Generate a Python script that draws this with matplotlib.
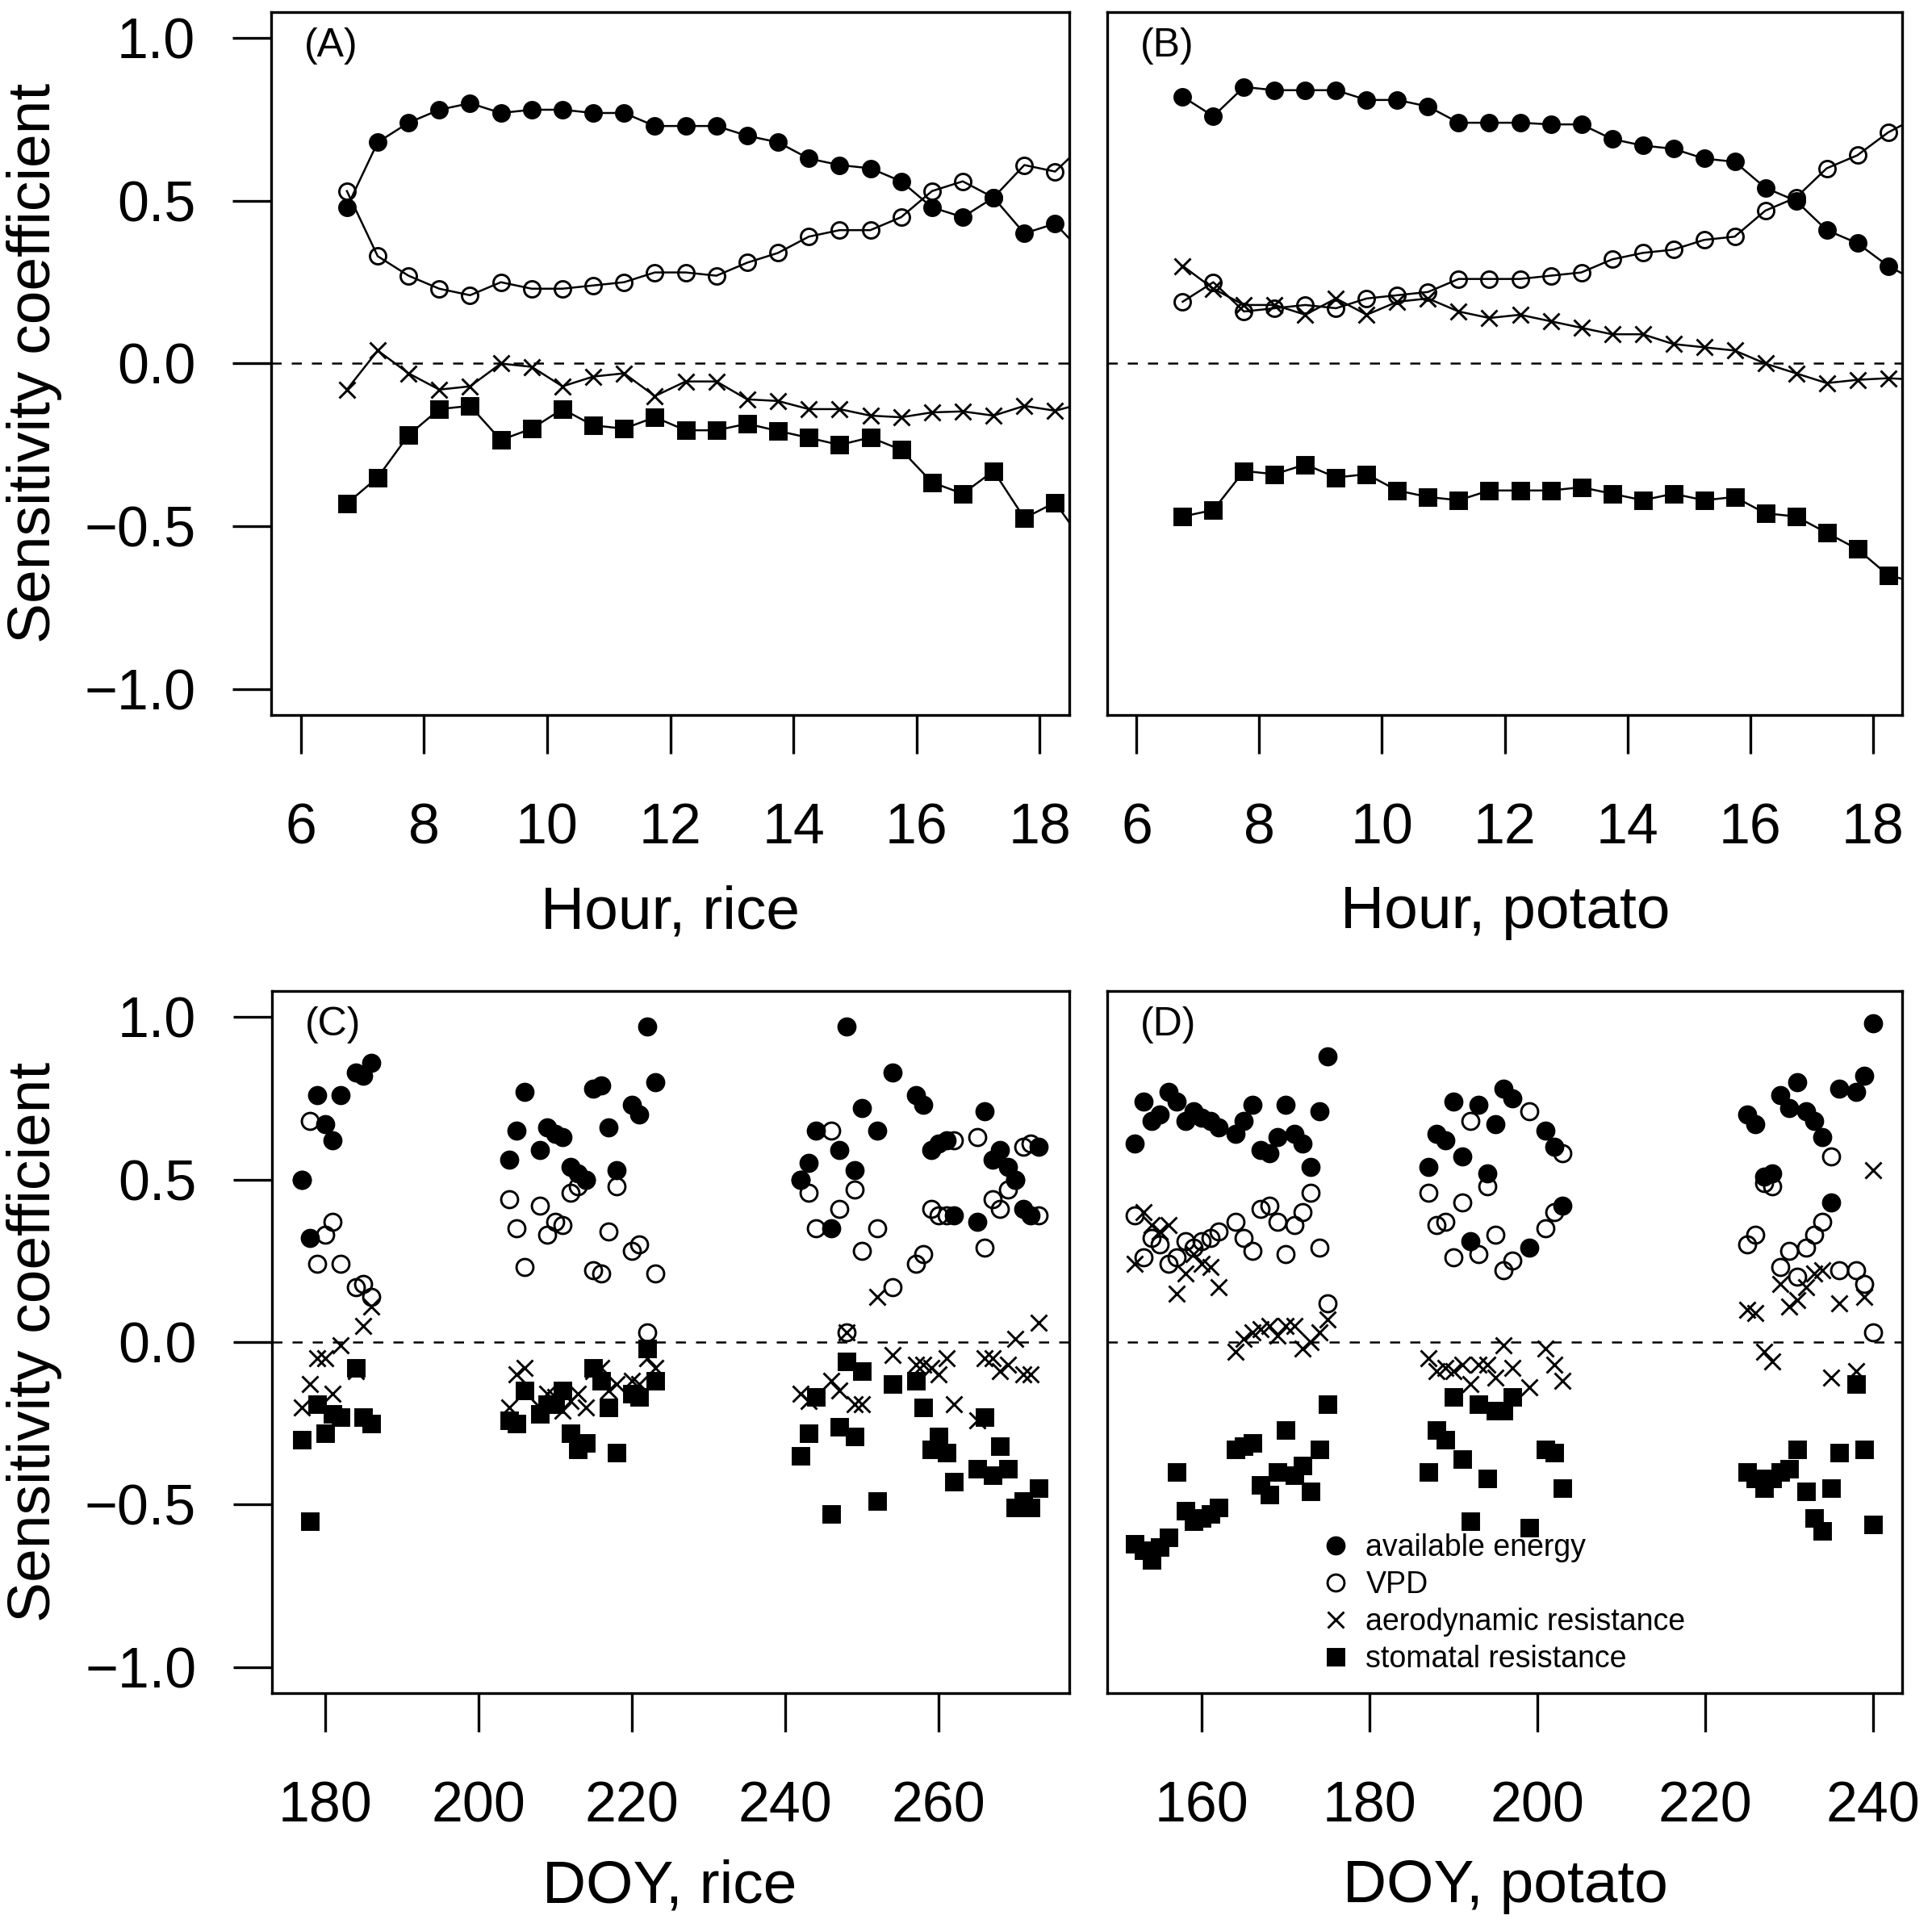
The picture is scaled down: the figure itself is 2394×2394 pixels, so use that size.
import matplotlib
matplotlib.use("Agg")
import matplotlib.pyplot as plt
import numpy as np

plt.rcParams['font.family'] = ['Liberation Sans', 'DejaVu Sans']

# ---- hourly means (panels A, B) ----
hours = [6.75, 7.25, 7.75, 8.25, 8.75, 9.25, 9.75, 10.25, 10.75, 11.25, 11.75, 12.25,
         12.75, 13.25, 13.75, 14.25, 14.75, 15.25, 15.75, 16.25, 16.75, 17.25, 17.75, 18.25, 18.75]

rice_energy = [0.48, 0.68, 0.74, 0.78, 0.80, 0.77, 0.78, 0.78, 0.77, 0.77, 0.73, 0.73,
               0.73, 0.70, 0.68, 0.63, 0.61, 0.60, 0.56, 0.48, 0.45, 0.51, 0.40, 0.43, 0.33]
rice_vpd = [0.53, 0.33, 0.27, 0.23, 0.21, 0.25, 0.23, 0.23, 0.24, 0.25, 0.28, 0.28,
            0.27, 0.31, 0.34, 0.39, 0.41, 0.41, 0.45, 0.53, 0.56, 0.51, 0.61, 0.59, 0.68]
rice_ra = [-0.08, 0.04, -0.03, -0.08, -0.07, 0.00, -0.01, -0.07, -0.04, -0.03, -0.10, -0.055,
           -0.055, -0.11, -0.115, -0.14, -0.14, -0.16, -0.165, -0.15, -0.147, -0.16, -0.13, -0.145, -0.12]
rice_rs = [-0.43, -0.35, -0.22, -0.14, -0.13, -0.235, -0.20, -0.14, -0.19, -0.20, -0.165, -0.205,
           -0.205, -0.185, -0.207, -0.228, -0.25, -0.227, -0.265, -0.365, -0.40, -0.33, -0.475, -0.427, -0.56]

potato_energy = [0.82, 0.76, 0.85, 0.84, 0.84, 0.84, 0.81, 0.81, 0.79, 0.74, 0.74, 0.74,
                 0.735, 0.735, 0.69, 0.67, 0.66, 0.63, 0.62, 0.54, 0.50, 0.41, 0.37, 0.30, 0.25]
potato_vpd = [0.19, 0.25, 0.16, 0.17, 0.18, 0.17, 0.20, 0.21, 0.22, 0.26, 0.26, 0.26,
              0.27, 0.28, 0.32, 0.34, 0.35, 0.38, 0.39, 0.47, 0.51, 0.60, 0.64, 0.71, 0.76]
potato_ra = [0.30, 0.23, 0.18, 0.18, 0.15, 0.20, 0.15, 0.19, 0.20, 0.16, 0.14, 0.15,
             0.13, 0.11, 0.09, 0.09, 0.06, 0.05, 0.04, 0.00, -0.03, -0.06, -0.05, -0.045, -0.05]
potato_rs = [-0.47, -0.45, -0.33, -0.34, -0.31, -0.35, -0.34, -0.39, -0.41, -0.42, -0.39, -0.39,
             -0.39, -0.38, -0.40, -0.42, -0.40, -0.42, -0.41, -0.46, -0.47, -0.52, -0.57, -0.65, -0.675]

# ---- daily values (panels C, D) ----
doy_rice = [177, 178, 179, 180, 181, 182, 184, 185, 186,
            204, 205, 206, 208, 209, 210, 211, 212, 213, 214, 215, 216, 217, 218, 220, 221, 222, 223,
            242, 243, 244, 246, 247, 248, 249, 250, 252, 254, 257, 258, 259, 260, 261, 262,
            265, 266, 267, 268, 269, 270, 271, 272, 273]
rice_d_energy = [0.50, 0.32, 0.76, 0.67, 0.62, 0.76, 0.83, 0.82, 0.86,
                 0.56, 0.65, 0.77, 0.59, 0.66, 0.64, 0.63, 0.54, 0.52, 0.50, 0.78, 0.79, 0.66, 0.53, 0.73, 0.70, 0.97, 0.80,
                 0.50, 0.55, 0.65, 0.35, 0.59, 0.97, 0.53, 0.72, 0.65, 0.83, 0.76, 0.73, 0.59, 0.61, 0.62, 0.39,
                 0.37, 0.71, 0.56, 0.59, 0.54, 0.50, 0.41, 0.39, 0.60]
rice_d_vpd = [0.50, 0.68, 0.24, 0.33, 0.37, 0.24, 0.17, 0.18, 0.14,
              0.44, 0.35, 0.23, 0.42, 0.33, 0.37, 0.36, 0.46, 0.48, 0.50, 0.22, 0.21, 0.34, 0.48, 0.28, 0.30, 0.03, 0.21,
              0.50, 0.46, 0.35, 0.65, 0.41, 0.03, 0.47, 0.28, 0.35, 0.17, 0.24, 0.27, 0.41, 0.39, 0.39, 0.62,
              0.63, 0.29, 0.44, 0.41, 0.47, 0.50, 0.60, 0.61, 0.39]
rice_d_ra = [-0.20, -0.13, -0.05, -0.05, -0.16, -0.01, -0.09, 0.05, 0.11,
             -0.20, -0.10, -0.08, -0.20, -0.16, -0.17, -0.21, -0.18, -0.16, -0.20, -0.09, -0.08, -0.15, -0.13, -0.12, -0.13, -0.05, -0.08,
             -0.16, -0.18, -0.17, -0.12, -0.15, 0.03, -0.19, -0.19, 0.14, -0.04, -0.07, -0.07, -0.08, -0.10, -0.05, -0.19,
             -0.24, -0.05, -0.05, -0.09, -0.07, 0.01, -0.10, -0.10, 0.06]
rice_d_rs = [-0.30, -0.55, -0.19, -0.28, -0.22, -0.23, -0.08, -0.23, -0.25,
             -0.24, -0.25, -0.15, -0.22, -0.19, -0.19, -0.15, -0.28, -0.33, -0.31, -0.08, -0.12, -0.20, -0.34, -0.16, -0.17, -0.02, -0.12,
             -0.35, -0.28, -0.17, -0.53, -0.26, -0.06, -0.29, -0.09, -0.49, -0.13, -0.12, -0.20, -0.33, -0.29, -0.34, -0.43,
             -0.39, -0.23, -0.41, -0.32, -0.39, -0.51, -0.49, -0.51, -0.45]

doy_potato = [152, 153, 154, 155, 156, 157, 158, 159, 160, 161, 162,
              164, 165, 166, 167, 168, 169, 170, 171, 172, 173, 174, 175,
              187, 188, 189, 190, 191, 192, 193, 194, 195, 196, 197, 199, 201, 202, 203,
              225, 226, 227, 228, 229, 230, 231, 232, 233, 234, 235, 236, 238, 239, 240]
potato_d_energy = [0.61, 0.74, 0.68, 0.70, 0.77, 0.74, 0.68, 0.71, 0.69, 0.68, 0.66,
                   0.64, 0.68, 0.73, 0.59, 0.58, 0.63, 0.73, 0.64, 0.61, 0.54, 0.71, 0.88,
                   0.54, 0.64, 0.62, 0.74, 0.57, 0.31, 0.73, 0.52, 0.67, 0.78, 0.75, 0.29, 0.65, 0.60, 0.42,
                   0.70, 0.67, 0.51, 0.52, 0.76, 0.72, 0.80, 0.71, 0.68, 0.63, 0.43, 0.78, 0.77, 0.82, 0.98]
potato_d_vpd = [0.39, 0.26, 0.32, 0.30, 0.24, 0.26, 0.31, 0.29, 0.31, 0.32, 0.34,
                0.37, 0.32, 0.28, 0.41, 0.42, 0.37, 0.27, 0.36, 0.40, 0.46, 0.29, 0.12,
                0.46, 0.36, 0.37, 0.26, 0.43, 0.68, 0.27, 0.48, 0.33, 0.22, 0.25, 0.71, 0.35, 0.40, 0.58,
                0.30, 0.33, 0.49, 0.48, 0.23, 0.28, 0.20, 0.29, 0.33, 0.37, 0.57, 0.22, 0.22, 0.18, 0.03]
potato_d_ra = [0.24, 0.40, 0.36, 0.34, 0.36, 0.15, 0.21, 0.27, 0.24, 0.23, 0.17,
               -0.03, 0.01, 0.03, 0.04, 0.05, 0.02, 0.05, 0.05, -0.02, 0.00, 0.03, 0.07,
               -0.05, -0.09, -0.08, -0.09, -0.07, -0.13, -0.07, -0.07, -0.11, -0.01, -0.08, -0.14, -0.02, -0.07, -0.12,
               0.10, 0.09, -0.03, -0.06, 0.18, 0.11, 0.13, 0.17, 0.21, 0.22, -0.11, 0.12, -0.09, 0.14, 0.53]
potato_d_rs = [-0.62, -0.64, -0.67, -0.63, -0.60, -0.40, -0.52, -0.55, -0.54, -0.53, -0.51,
               -0.33, -0.32, -0.31, -0.44, -0.47, -0.40, -0.27, -0.41, -0.38, -0.46, -0.33, -0.19,
               -0.40, -0.27, -0.30, -0.17, -0.36, -0.55, -0.19, -0.42, -0.21, -0.21, -0.17, -0.57, -0.33, -0.34, -0.45,
               -0.40, -0.42, -0.45, -0.42, -0.40, -0.39, -0.33, -0.46, -0.54, -0.58, -0.45, -0.34, -0.13, -0.33, -0.56]

labels = ["available energy", "VPD", "aerodynamic resistance", "stomatal resistance"]

W = H = 2394
fig = plt.figure(figsize=(W / 300, H / 300), dpi=300)


def add_axes(l, t, r, b):
    return fig.add_axes([l / W, 1 - b / H, (r - l) / W, (b - t) / H])


def style(ax, xticks, xlim, left):
    ax.set_xlim(*xlim)
    ax.set_ylim(-1.08, 1.08)
    ax.set_xticks(xticks)
    ax.axhline(0, color='k', lw=0.6, ls=(0, (5, 5)), zorder=1)
    for s in ax.spines.values():
        s.set_linewidth(0.8)
    ax.tick_params(direction='out', length=11.5, width=0.8, labelsize=16.8, pad=14.5)
    if left:
        ax.set_yticks([-1, -0.5, 0, 0.5, 1])
        ax.set_yticklabels(["\u22121.0", "\u22120.5", "0.0", "0.5", "1.0"])
        ax.tick_params(axis='y', pad=11)
    else:
        ax.set_yticks([])


ms = 4.8
mew = 0.7


def draw_lines(ax, x, e, v, a, r):
    kw = dict(color='k', lw=0.6, ms=ms, mew=mew)
    ax.plot(x, e, '-o', mfc='k', **kw)
    ax.plot(x, v, '-o', mfc='none', **kw)
    ax.plot(x, a, '-x', **kw)
    ax.plot(x, r, '-s', mfc='k', mec='k', **kw)


def draw_points(ax, x, e, v, a, r):
    kw = dict(color='k', ls='none', ms=ms + 0.2, mew=mew)
    h1, = ax.plot(x, e, 'o', mfc='k', label=labels[0], **kw)
    h2, = ax.plot(x, v, 'o', mfc='none', label=labels[1], **kw)
    h3, = ax.plot(x, a, 'x', label=labels[2], **kw)
    h4, = ax.plot(x, r, 's', mfc='k', label=labels[3], **kw)
    return [h1, h2, h3, h4]


axA = add_axes(336, 15, 1325, 886)
axB = add_axes(1372, 15, 2357, 886)
axC = add_axes(337, 1228, 1325, 2098)
axD = add_axes(1372, 1228, 2357, 2098)

draw_lines(axA, hours, rice_energy, rice_vpd, rice_ra, rice_rs)
draw_lines(axB, hours, potato_energy, potato_vpd, potato_ra, potato_rs)
draw_points(axC, doy_rice, rice_d_energy, rice_d_vpd, rice_d_ra, rice_d_rs)
handles = draw_points(axD, doy_potato, potato_d_energy, potato_d_vpd, potato_d_ra, potato_d_rs)

style(axA, range(6, 19, 2), (5.52, 18.48), True)
style(axB, range(6, 19, 2), (5.52, 18.48), False)
style(axC, range(180, 261, 20), (173.1, 277.0), True)
style(axD, range(160, 241, 20), (148.7, 243.5), False)

for ax, tag in zip([axA, axB, axC, axD], ["(A)", "(B)", "(C)", "(D)"]):
    ax.text(0.041, 0.952, tag, transform=ax.transAxes, ha='left', va='center', fontsize=12)

axD.legend(handles=handles, loc='upper left', bbox_to_anchor=(0.272, 0.228),
           frameon=False, fontsize=9, handlelength=0.8, handletextpad=0.6,
           labelspacing=0.27, borderpad=0, borderaxespad=0)

fs = 18
fig.text(830 / W, 1 - 1131 / H, "Hour, rice", ha='center', va='center', fontsize=fs)
fig.text(1865 / W, 1 - 1131 / H, "Hour, potato", ha='center', va='center', fontsize=fs)
fig.text(830 / W, 1 - 2338 / H, "DOY, rice", ha='center', va='center', fontsize=fs)
fig.text(1865 / W, 1 - 2338 / H, "DOY, potato", ha='center', va='center', fontsize=fs)
fig.text(43 / W, 1 - 450 / H, "Sensitivity coefficient", rotation=90, ha='center', va='center', fontsize=fs)
fig.text(43 / W, 1 - 1663 / H, "Sensitivity coefficient", rotation=90, ha='center', va='center', fontsize=fs)

fig.savefig("out.png", dpi=300)
